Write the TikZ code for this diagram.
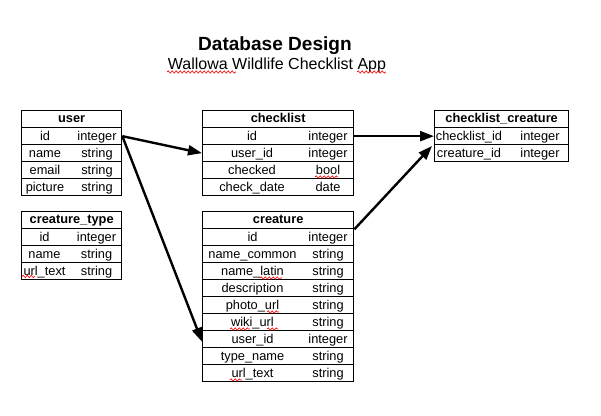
\documentclass[tikz,border=0pt]{standalone}
\usepackage{fontspec}
\setmainfont{Liberation Sans}
\usetikzlibrary{arrows.meta,calc,decorations.pathmorphing}

\newcommand\dbtable[8]{%
  \node[tblrow, minimum width=#4*0.75pt] (#1-h) at (#2,#3) {};
  \node[hdr] (#1-ht) at ($(#1-h.north)+(0,13)$) {#7};
  \foreach \a/\b [count=\i] in {#8} {
    \node[tblrow, minimum width=#4*0.75pt] (#1-\i) at (#2,#3+17*\i) {};
    \node[cell] (#1-\i a) at ($(#1-\i.north west)+(#5,13.5)$) {\a};
    \node[cell] (#1-\i b) at ($(#1-\i.north west)+(#6,13.5)$) {\b};
  }%
}

\begin{document}
\begin{tikzpicture}[x=0.75pt,y=-0.75pt,
  tblrow/.style={draw, line width=1pt, minimum height=12.75pt, inner sep=0pt, anchor=north west},
  cell/.style={font=\fontsize{9.6}{11}\selectfont, inner sep=0pt, anchor=base},
  hdr/.style={font=\bfseries\fontsize{9.6}{11}\selectfont, inner sep=0pt, anchor=base},
  link/.style={line width=1.8pt, -{Triangle[length=10.5pt,width=7.5pt]}},
  squig/.style={red, line width=0.5pt, decorate, decoration={snake, amplitude=0.8pt, segment length=3pt}}]

\useasboundingbox (0,0) rectangle (601,416);

\node[font=\bfseries\fontsize{14.3}{16}\selectfont, inner sep=0pt, anchor=base] (title) at (275,50.7) {Database Design};
\node[font=\fontsize{12}{14}\selectfont, inner sep=0pt, anchor=base] (subtitle) at (277,69.3) {Wallowa Wildlife Checklist App};

\dbtable{user}{21}{110}{100}{24}{76}{user}{id/integer, name/string, email/string, picture/string}
\dbtable{ctype}{21}{211}{100}{23.5}{75.5}{creature\_type}{id/integer, name/string, url\_text/string}
\dbtable{checklist}{202}{110}{151}{50}{126}{checklist}{id/integer, user\_id/integer, checked/bool, check\_date/date}
\dbtable{creature}{202}{211}{151}{50.5}{126}{creature}{id/integer, name\_common/string, name\_latin/string, description/string, photo\_url/string, wiki\_url/string, user\_id/integer, type\_name/string, url\_text/string}
\dbtable{cc}{434}{110}{134}{35}{106}{checklist\_creature}{checklist\_id/integer, creature\_id/integer}

% connectors
\draw[link] (user-1.east) -- (checklist-2.west);
\draw[link] (user-1.east) -- ([yshift=-1.9pt]creature-7.west);
\draw[link] (checklist-1.east) -- (cc-1.west);
\draw[link] (creature-h.south east) -- ([xshift=-1.5pt,yshift=-1.5pt]cc-2.north west);

% spell-check underlines
\draw[squig] (167,72) -- (236,72);
\draw[squig] (357,72) -- (386,72);
\draw[squig] (315,177) -- (338,177);
\draw[squig] (260,278) -- (282,278);
\draw[squig] (267,312) -- (279,312);
\draw[squig] (230,329) -- (250,329);
\draw[squig] (267,329) -- (278,329);
\draw[squig] (230,380) -- (242,380);
\draw[squig] (22,276.5) -- (35,276.5);
\end{tikzpicture}
\end{document}
